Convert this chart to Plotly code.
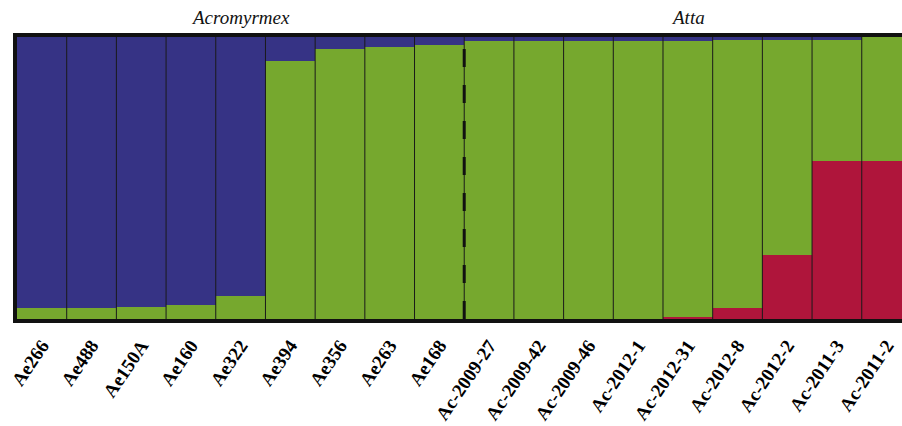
import plotly.graph_objects as go

samples = ["Ae266", "Ae488", "Ae150A", "Ae160", "Ae322", "Ae394", "Ae356", "Ae263", "Ae168",
           "Ac-2009-27", "Ac-2009-42", "Ac-2009-46", "Ac-2012-1", "Ac-2012-31", "Ac-2012-8",
           "Ac-2012-2", "Ac-2011-3", "Ac-2011-2"]
red = [0, 0, 0, 0, 0, 0, 0, 0, 0,
       0, 0, 0, 0, 0.006, 0.04, 0.227, 0.56, 0.56]
blue = [0.961, 0.961, 0.956, 0.949, 0.918, 0.085, 0.043, 0.035, 0.028,
        0.015, 0.015, 0.015, 0.015, 0.013, 0.01, 0.009, 0.009, 0.0]
green = [round(1 - r - b, 4) for r, b in zip(red, blue)]
groups = ["Acromyrmex", "Atta"]
group_sizes = [9, 9]

col_red = "#af153b"
col_green = "#76a82e"
col_blue = "#363385"

idx = list(range(len(samples)))
fig = go.Figure()
for name, vals, col in [("K3", red, col_red), ("K2", green, col_green), ("K1", blue, col_blue)]:
    fig.add_trace(go.Bar(x=idx, y=vals, name=name, marker=dict(color=col, line=dict(width=0)),
                         width=1.0, showlegend=False))

# separators between samples
for i in idx[:-1]:
    fig.add_shape(type="line", x0=i + 0.5, x1=i + 0.5, y0=0, y1=1, xref="x", yref="y",
                  line=dict(color="#1a1a1a", width=1))

# dashed group divider
split = group_sizes[0] - 0.5
fig.add_shape(type="line", x0=split, x1=split, y0=0, y1=1, xref="x", yref="y",
              line=dict(color="#111111", width=3, dash="18px,18px"))

# group titles
start = 0
for g, n in zip(groups, group_sizes):
    fig.add_annotation(x=start + (n - 1) / 2, y=1, xref="x", yref="paper", yanchor="bottom",
                       yshift=7, text=g, showarrow=False,
                       font=dict(family="Liberation Serif", size=19, color="#111", style="italic"))
    start += n

fig.update_layout(
    barmode="stack", bargap=0,
    width=902, height=426,
    margin=dict(l=17, r=0, t=37, b=107),
    paper_bgcolor="white", plot_bgcolor="white",
    xaxis=dict(range=[-0.5, 17.31], tickmode="array", tickvals=idx, ticktext=samples,
               tickangle=-56, showline=True, linewidth=4, linecolor="#111111", mirror=True,
               showgrid=False, zeroline=False, ticks="", ticklabelstandoff=4, automargin=False,
               tickfont=dict(family="Liberation Serif", size=19, color="#000", weight="bold")),
    yaxis=dict(range=[0, 1], showline=True, linewidth=4, linecolor="#111111", mirror=True,
               showgrid=False, zeroline=False, showticklabels=False, ticks="", automargin=False),
)

fig.write_html("out.html")
